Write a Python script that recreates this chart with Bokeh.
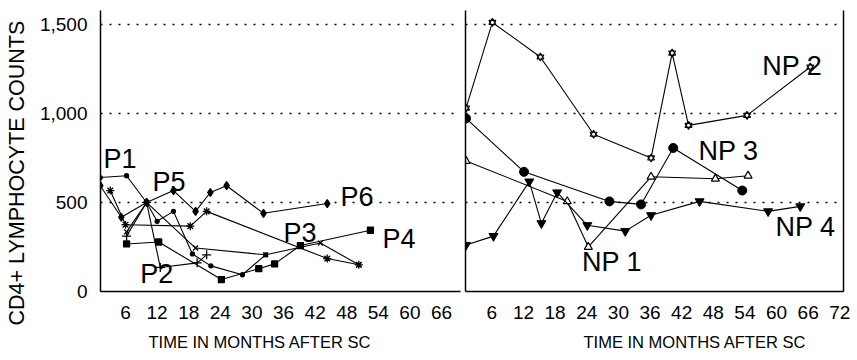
from bokeh.plotting import figure
from bokeh.layouts import row
from bokeh.models import Range1d, FixedTicker, LinearAxis, Title
from bokeh.core.properties import value
from bokeh.embed import file_html
from bokeh.resources import INLINE

# ---------------- data (months after SC, CD4+ counts) ----------------
p1_m = [1.2, 6.2, 10, 12.0, 15.1, 18.7, 22.2, 28.2, 32.6]
p1_c = [640, 650, 500, 394, 450, 211, 144, 94, 206]
p2_m = [6.2, 10, 12.6, 19.6, 21.4]
p2_c = [311, 500, 135, 161, 206]
p3_m = [6.2, 10, 19.3, 32.6, 43.0, 50.3]
p3_c = [335, 500, 244, 206, 272, 150]
p4_m = [6.2, 12.3, 24.2, 31.3, 34.3, 39.2, 52.5]
p4_c = [267, 278, 67, 128, 155, 258, 344]
p5_m = [3.1, 6.0, 18.3, 21.4, 44.3, 50.3]
p5_c = [567, 375, 367, 450, 185, 150]
p6_m = [1.2, 5.2, 10, 15.1, 19.3, 22.1, 25.2, 32.2, 44.3]
p6_c = [594, 417, 500, 567, 450, 556, 594, 439, 494]

np1_m = [1.1, 20.3, 24.3, 36.2, 48.4, 54.6]
np1_c = [733, 506, 250, 644, 633, 650]
np2_m = [1.1, 6.1, 15.2, 25.3, 36.2, 40.2, 43.3, 54.4, 66.4]
np2_c = [1030, 1511, 1317, 883, 750, 1339, 933, 989, 1261]
np3_m = [1.1, 12.1, 28.3, 34.3, 40.4, 53.5]
np3_c = [972, 672, 506, 489, 806, 567]
np4_m = [1.1, 6.3, 13.1, 15.4, 18.4, 24.1, 31.3, 36.2, 45.4, 58.4, 64.5]
np4_c = [261, 311, 617, 383, 556, 372, 339, 428, 506, 450, 478]

left_names = ["P1", "P5", "P2", "P3", "P6", "P4"]
left_label_m = [1.8, 11.1, 8.8, 36.0, 46.8, 54.8]
left_label_c = [742, 617, 100, 328, 528, 294]
right_names = ["NP 2", "NP 3", "NP 1", "NP 4"]
right_label_m = [57.3, 45.2, 23.1, 59.8]
right_label_c = [1267, 789, 167, 361]

y_ticks = [0, 500, 1000, 1500]
y_tick_labels = ["0", "500", "1,000", "1,500"]
grid_ticks = [500, 1000, 1500]
left_x_ticks = [6, 12, 18, 24, 30, 36, 42, 48, 54, 60, 66]
right_x_ticks = [6, 12, 18, 24, 30, 36, 42, 48, 54, 60, 66, 72]
x_title = "TIME IN MONTHS AFTER SC"
y_title = "CD4+ LYMPHOCYTE COUNTS"

FONT = "Liberation Sans"

# narrow strip carrying the vertical axis title
strip = figure(width=30, height=360, x_range=Range1d(0, 1), y_range=Range1d(0, 1),
               output_backend="svg", toolbar_location=None, x_axis_location=None,
               y_axis_location=None,
               min_border_left=0, min_border_right=0, min_border_top=10, min_border_bottom=66)
strip.outline_line_color = None
strip.xgrid.visible = False
strip.ygrid.visible = False
strip.add_layout(Title(text=y_title, align="left", offset=-34, text_font=FONT,
                       text_font_size="21.5px", text_font_style="normal",
                       text_color="black", standoff=4), "left")


def style(p, xticks, title_offset):
    p.outline_line_color = None
    p.background_fill_color = "white"
    p.border_fill_color = "white"
    p.xgrid.visible = False
    p.ygrid.ticker = FixedTicker(ticks=grid_ticks)
    p.ygrid.grid_line_color = "black"
    p.ygrid.grid_line_dash = "2 7"
    p.ygrid.grid_line_width = 1.4
    xa = p.xaxis[0]
    xa.ticker = FixedTicker(ticks=xticks)
    xa.major_tick_line_color = None
    xa.minor_tick_line_color = None
    xa.axis_line_color = "black"
    xa.axis_line_width = 1.5
    xa.major_label_text_font = FONT
    xa.major_label_text_font_size = "19px"
    xa.major_label_text_color = "black"
    xa.major_label_standoff = 8
    t = Title(text=x_title, align="left", offset=title_offset, text_font=FONT,
              text_font_size="16.5px", text_font_style="normal", text_color="black", standoff=19)
    p.add_layout(t, "below")


left = figure(width=432, height=360, x_range=Range1d(1.25, 69.6), y_range=Range1d(0, 1578),
              output_backend="svg", toolbar_location=None,
              min_border_left=70, min_border_right=2, min_border_top=10, min_border_bottom=66)
style(left, left_x_ticks, 48)
ya = left.yaxis[0]
ya.ticker = FixedTicker(ticks=y_ticks)
ya.major_label_overrides = {t: s for t, s in zip(y_ticks, y_tick_labels)}
ya.major_tick_line_color = None
ya.minor_tick_line_color = None
ya.axis_line_color = "black"
ya.axis_line_width = 1.5
ya.major_label_text_font = FONT
ya.major_label_text_font_size = "19px"
ya.major_label_text_color = "black"
ya.major_label_standoff = 7

lw = 1.1
series_left = [
    (p1_m, p1_c, "circle", 4, "black"),
    (p2_m, p2_c, "cross", 9, "black"),
    (p3_m, p3_c, "x", 7, "black"),
    (p4_m, p4_c, "square", 6, "black"),
    (p5_m, p5_c, "asterisk", 8, "black"),
    (p6_m, p6_c, "diamond", 8, "black"),
]
for m, c, mk, sz, fc in series_left:
    left.line(m, c, line_color="black", line_width=lw)
    left.scatter(m, c, marker=mk, size=sz, fill_color=fc, line_color="black", line_width=1.3)

left.text(x=left_label_m, y=left_label_c, text=left_names, text_font=value(FONT),
          text_font_size="27px", text_baseline="middle", text_align="left", text_color="black")

right = figure(width=395, height=360, x_range=Range1d(1.0, 72.7), y_range=Range1d(0, 1578),
               output_backend="svg", toolbar_location=None,
               min_border_left=3, min_border_right=14, min_border_top=10, min_border_bottom=66)
style(right, right_x_ticks, 118)
rya = right.yaxis[0]
rya.ticker = FixedTicker(ticks=[])
rya.major_tick_line_color = None
rya.minor_tick_line_color = None
rya.axis_line_color = "black"
rya.axis_line_width = 1.5
rya.major_label_text_font_size = "0px"
rya.major_label_standoff = 0
edge = LinearAxis(ticker=FixedTicker(ticks=[]), major_tick_line_color=None,
                  minor_tick_line_color=None, axis_line_color="black", axis_line_width=1.5,
                  major_label_text_font_size="0px", major_label_standoff=0)
right.add_layout(edge, "right")

right.line(np1_m, np1_c, line_color="black", line_width=lw)
right.scatter(np1_m, np1_c, marker="triangle", size=8, fill_color="white", line_color="black", line_width=1.2)
right.line(np2_m, np2_c, line_color="black", line_width=lw)
right.scatter(np2_m, np2_c, marker="triangle", size=7, fill_color="white", line_color="black", line_width=1.1)
right.scatter(np2_m, np2_c, marker="inverted_triangle", size=7, fill_color=None, line_color="black", line_width=1.1)
right.line(np3_m, np3_c, line_color="black", line_width=lw)
right.scatter(np3_m, np3_c, marker="circle", size=9, fill_color="black", line_color="black")
right.line(np4_m, np4_c, line_color="black", line_width=lw)
right.scatter(np4_m, np4_c, marker="inverted_triangle", size=9, fill_color="black", line_color="black")

right.text(x=right_label_m, y=right_label_c, text=right_names, text_font=value(FONT),
           text_font_size="27px", text_baseline="middle", text_align="left", text_color="black")

layout = row(strip, left, right, spacing=0)
open("out.html", "w").write(file_html(layout, INLINE))
